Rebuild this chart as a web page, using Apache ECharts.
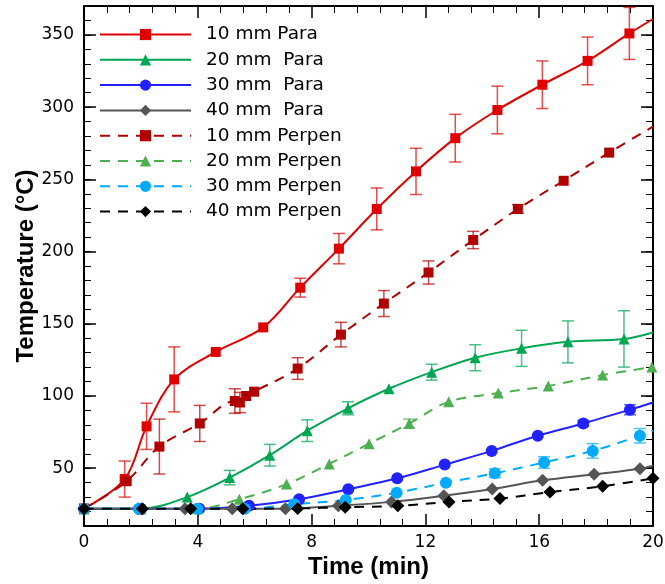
<!DOCTYPE html>
<html>
<head>
<meta charset="utf-8">
<script src="https://cdn.jsdelivr.net/npm/echarts@6/dist/echarts.min.js"></script>
<style>
  html, body { margin: 0; padding: 0; background: #fff; }
  #chart { width: 665px; height: 584px; }
</style>
</head>
<body>
<div id="chart"></div>
<script>
// ---- data (time in min, temperature in °C, err = half bar) ----
const names = ['10 mm Para', '20 mm  Para', '30 mm  Para', '40 mm  Para',
  '10 mm Perpen', '20 mm Perpen', '30 mm Perpen', '40 mm Perpen']

const xP10 = [0, 1.43, 2.2, 3.17, 4.63, 6.3, 7.6, 8.96, 10.29, 11.67, 13.05, 14.53, 16.11, 17.7, 19.17, 20]
const yP10 = [22, 42.5, 79, 111.5, 130.5, 147.5, 175, 202, 229.5, 255.5, 278.5, 298, 315.5, 332, 351, 361]
const eP10 = [0, 12.5, 16, 22.5, 0, 0, 6.5, 10.5, 14.5, 16, 16.5, 16.5, 16.5, 16.5, 18, 0]

const xP20 = [0, 2.0, 3.63, 5.12, 6.53, 7.85, 9.28, 10.72, 12.22, 13.75, 15.38, 17.01, 18.98, 20]
const yP20 = [22, 22, 30, 43.5, 59, 76, 91.5, 105, 116.5, 126.5, 133, 137.5, 139.5, 144]
const eP20 = [0, 0, 0, 5, 7.5, 7.5, 4.5, 0, 5.5, 9, 12.5, 14.5, 19.5, 0]

const xP30 = [0, 2.0, 4.05, 5.8, 7.56, 9.29, 11.01, 12.68, 14.33, 15.95, 17.55, 19.19, 20]
const yP30 = [22, 22, 22, 24, 28.5, 35.5, 43, 52.5, 62, 72.5, 81, 90.5, 95.5]
const eP30 = [0, 0, 0, 0, 0, 0, 0, 0, 0, 0, 2, 3.5, 0]

const xP40 = [0, 1.9, 3.55, 5.21, 7.08, 8.94, 10.81, 12.65, 14.35, 16.12, 17.93, 19.54, 20]
const yP40 = [22, 22, 22, 22, 22, 24, 26.7, 31, 35.6, 41.6, 45.8, 49.7, 51.8]

const xN10 = [0, 1.5, 2.65, 4.07, 5.3, 5.48, 5.7, 5.98, 7.51, 9.03, 10.54, 12.11, 13.68, 15.25, 16.86, 18.46, 20]
const yN10 = [22, 41, 65, 81, 96.5, 95.5, 100, 103, 119, 142.5, 164, 185.5, 208, 229.5, 249, 268.5, 286.5]
const eN10 = [0, 0, 19, 12.5, 8.5, 7, 0, 0, 7.5, 8.5, 9, 8, 6, 3, 0, 0, 0]

const xN20 = [0, 2.0, 4.0, 5.46, 7.12, 8.62, 10.02, 11.43, 12.82, 14.56, 16.32, 18.23, 19.96]
const yN20 = [22, 22, 22, 28.5, 39, 53, 67, 81, 96, 102, 107, 114.5, 120]
const eN20 = [0, 0, 0, 0, 0, 0, 0, 3, 0, 0, 0, 0, 0]

const xN30 = [0, 1.93, 3.98, 5.65, 7.39, 9.2, 10.99, 12.72, 14.44, 16.17, 17.88, 19.54, 20]
const yN30 = [22, 22, 22, 22, 25, 28, 33, 40, 46.5, 54, 62, 72.5, 76]
const eN30 = [0, 0, 0, 0, 0, 0, 0, 0, 3, 4, 5, 5, 0]

const xN40 = [0, 2.05, 3.75, 5.58, 7.51, 9.18, 11.03, 12.83, 14.62, 16.38, 18.23, 20]
const yN40 = [22, 22, 22, 22, 22.2, 23, 24, 26.7, 29, 33.5, 37.5, 43]

const xTicks = [0, 4, 8, 12, 16, 20]
const yTicks = [50, 100, 150, 200, 250, 300, 350]

const labelFont = 'DejaVu Sans'
const nameFont = '"Liberation Sans", Arial, sans-serif'

// line series; lastMarked=false leaves the end point (where the curve meets the frame) bare
function lineSeries(name, xs, ys, color, symbol, size, dashed, lastMarked) {
  return {
    name,
    type: 'line',
    data: xs.map((x, i) => (i === xs.length - 1 && !lastMarked)
      ? { value: [x, ys[i]], symbol: 'none' }
      : [x, ys[i]]),
    smooth: 0.35,
    symbol,
    symbolSize: size,
    showAllSymbol: true,
    lineStyle: { color, width: 2, type: dashed ? [10, 8] : 'solid' },
    itemStyle: { color },
    z: 3,
  }
}

// error bars with caps, drawn through the axis scale
function errorSeries(color, xs, ys, es) {
  const rows = []
  xs.forEach((x, i) => { if (es[i] > 0) rows.push([x, ys[i] - es[i], ys[i] + es[i]]) })
  return {
    type: 'custom',
    data: rows,
    silent: true,
    z: 2,
    encode: { x: 0, y: [1, 2] },
    renderItem: (params, api) => {
      const lo = api.coord([api.value(0), api.value(1)])
      const hi = api.coord([api.value(0), api.value(2)])
      const cap = 6
      const style = { stroke: color, lineWidth: 1.5, opacity: 0.7 }
      return {
        type: 'group',
        children: [
          { type: 'line', shape: { x1: lo[0], y1: lo[1], x2: hi[0], y2: hi[1] }, style },
          { type: 'line', shape: { x1: lo[0] - cap, y1: lo[1], x2: lo[0] + cap, y2: lo[1] }, style },
          { type: 'line', shape: { x1: hi[0] - cap, y1: hi[1], x2: hi[0] + cap, y2: hi[1] }, style },
        ],
      }
    },
  }
}

const axisLine = { show: true, lineStyle: { color: '#000', width: 2 } }

function xAxisDef(pos, labels) {
  return {
    type: 'value', position: pos, min: 0, max: 20, interval: 4,
    axisLine,
    axisTick: { show: true, inside: true, length: 12, lineStyle: { color: '#000', width: 1.5 } },
    minorTick: { show: true, splitNumber: 5, length: 7, lineStyle: { color: '#000', width: 1 } },
    splitLine: { show: false },
    axisLabel: { show: labels, color: '#000', fontFamily: labelFont, fontSize: 17, margin: 8, customValues: xTicks },
    name: labels ? 'Time (min)' : '',
    nameLocation: 'middle',
    nameGap: 29,
    nameMoveOverlap: false,
    nameTextStyle: { color: '#000', fontFamily: nameFont, fontWeight: 'bold', fontSize: 24 },
  }
}

function yMajor(pos, labels) {
  return {
    type: 'value', position: pos, min: 10, max: 370, interval: 10,
    axisLine,
    axisTick: { show: true, inside: true, length: 12, customValues: yTicks, lineStyle: { color: '#000', width: 1.5 } },
    axisLabel: { show: labels, color: '#000', fontFamily: labelFont, fontSize: 17, margin: 10, customValues: yTicks },
    splitLine: { show: false },
    name: labels ? 'Temperature (°C)' : '',
    nameLocation: 'middle',
    nameGap: 46,
    nameMoveOverlap: false,
    nameTextStyle: { color: '#000', fontFamily: nameFont, fontWeight: 'bold', fontSize: 24 },
  }
}

function yMinor(pos) {
  return {
    type: 'value', position: pos, min: 10, max: 370, interval: 10,
    axisLine: { show: false },
    axisTick: { show: true, inside: true, length: 7, lineStyle: { color: '#000', width: 1 } },
    axisLabel: { show: false },
    splitLine: { show: false },
  }
}

const chart = echarts.init(document.getElementById('chart'))

chart.setOption({
  animation: false,
  backgroundColor: '#fff',
  grid: { left: 84, right: 12, top: 6, bottom: 58, outerBoundsMode: 'none' },
  legend: {
    orient: 'vertical',
    left: 99,
    top: 25,
    padding: 0,
    itemWidth: 91,
    itemHeight: 14,
    itemGap: 6.3,
    data: names,
    textStyle: { color: '#000', fontFamily: labelFont, fontSize: 18.5, padding: [0, 0, 0, 10] },
  },
  xAxis: [xAxisDef('bottom', true), xAxisDef('top', false)],
  yAxis: [yMajor('left', true), yMinor('left'), yMajor('right', false), yMinor('right')],
  series: [
    errorSeries('#e00000', xP10, yP10, eP10),
    errorSeries('#00a651', xP20, yP20, eP20),
    errorSeries('#2222ff', xP30, yP30, eP30),
    errorSeries('#b00000', xN10, yN10, eN10),
    errorSeries('#4caf50', xN20, yN20, eN20),
    errorSeries('#00aaff', xN30, yN30, eN30),
    lineSeries(names[0], xP10, yP10, '#e00000', 'rect', 10, false, false),
    lineSeries(names[1], xP20, yP20, '#00a651', 'triangle', 11, false, false),
    lineSeries(names[2], xP30, yP30, '#2222ff', 'circle', 12, false, false),
    lineSeries(names[3], xP40, yP40, '#555555', 'diamond', 13, false, false),
    lineSeries(names[4], xN10, yN10, '#b00000', 'rect', 10, true, false),
    lineSeries(names[5], xN20, yN20, '#4caf50', 'triangle', 11, true, true),
    lineSeries(names[6], xN30, yN30, '#00aaff', 'circle', 12, true, false),
    lineSeries(names[7], xN40, yN40, '#000000', 'diamond', 13, true, true),
  ],
})
</script>
</body>
</html>
